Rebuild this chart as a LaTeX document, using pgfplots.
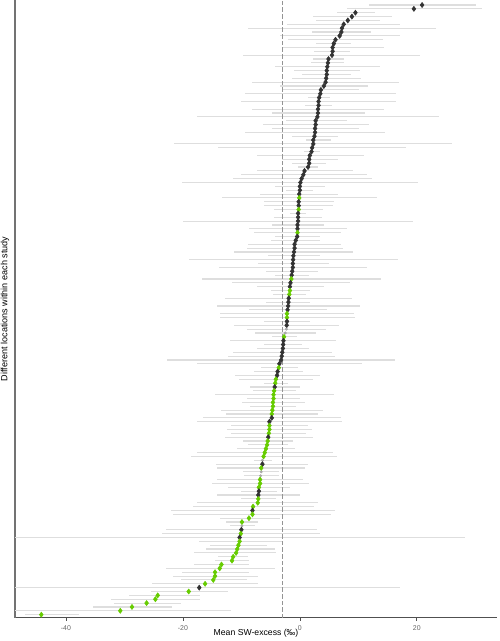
\documentclass[border=0pt]{standalone}
\usepackage{fontspec}
\setmainfont{Liberation Sans}
\usepackage{pgfplots}
\usepackage{pgfplotstable}
\pgfplotsset{compat=1.18}
\definecolor{ptblack}{HTML}{333333}
\definecolor{ptgreen}{HTML}{66CC00}
\definecolor{ptgray}{HTML}{A8A8A8}
\definecolor{errc}{HTML}{DEDEDE}
\definecolor{axc}{HTML}{505050}

\pgfplotstableread{
y x lo hi c
159 20.9 11.8 30.1 b
158 19.5 8.0 31.2 b
157 9.5 6.3 12.9 b
156 8.9 2.3 15.7 b
155 8.2 2.7 13.7 b
154 7.5 -2.2 17.1 b
153 7.2 -8.9 23.2 b
152 7.1 2.1 12.1 b
151 6.8 -3.4 17.1 b
150 6.1 -2.1 14.3 b
149 5.8 2.7 8.7 b
148 5.6 -2.8 14.4 b
147 5.6 2.5 8.5 b
146 5.5 -9.7 20.5 b
145 4.9 2.3 7.6 b
144 4.8 1.9 7.6 b
143 4.7 -4.3 13.7 b
142 4.6 -1.0 10.2 b
141 4.6 0.3 8.8 b
140 4.5 -1.4 10.5 b
139 4.4 -8.1 16.9 b
138 4.1 -3.4 11.6 b
137 3.6 -2.8 10.1 b
136 3.5 -9.3 16.5 b
135 3.3 1.4 5.2 b
134 3.2 -10.1 16.5 b
133 3.2 0.9 5.5 b
132 3.1 -8.1 14.4 b
131 3.1 -4.8 11.1 b
130 3.0 -17.6 23.8 b
129 2.7 -2.4 8.0 b
128 2.7 -6.3 11.9 b
127 2.6 -4.7 10.1 b
126 2.6 -9.3 14.5 b
125 2.5 -1.4 6.6 b
124 2.3 1.0 5.4 b
123 2.3 -21.6 26.1 b
122 2.1 -14.0 18.2 b
121 2.0 0.7 3.4 b
120 1.7 -7.4 10.9 b
119 1.6 -3.0 6.6 b
118 1.6 -1.4 4.5 b
117 1.4 -0.3 3.1 b
116 0.8 -7.4 9.1 b
115 0.6 -10.1 11.4 b
114 0.3 -11.5 12.3 b
113 0.1 -20.2 20.2 b
112 0.0 -4.2 4.3 b
111 0.0 -2.4 2.3 b
110 -0.1 -6.8 6.6 b
109 -0.1 -13.3 13.2 g
108 -0.2 -6.1 5.9 b
107 -0.2 -6.1 5.7 b
106 -0.2 -4.4 3.9 g
105 -0.3 -1.6 1.0 b
104 -0.3 -4.4 3.8 b
103 -0.3 -20.0 19.3 b
102 -0.4 -4.8 4.2 b
101 -0.4 -8.7 8.0 b
100 -0.4 -7.9 7.1 g
99 -0.45 -4.2 3.5 b
98 -0.7 -5.0 3.5 b
97 -0.9 -8.9 7.1 b
96 -0.9 -9.1 7.3 b
95 -1.0 -11.2 9.1 b
94 -1.1 -5.4 3.4 b
93 -1.15 -19.0 16.8 b
92 -1.2 -7.2 5.0 b
91 -1.2 -13.8 11.5 b
90 -1.3 -5.8 3.1 b
89 -1.4 -4.2 1.5 b
88 -1.45 -16.8 13.8 g
87 -1.6 -11.6 8.5 b
86 -1.7 -7.4 4.2 b
85 -1.7 -5.0 1.8 g
84 -1.8 -4.6 1.1 g
83 -1.9 -12.8 9.0 b
82 -1.95 -5.8 1.8 b
81 -2.0 -14.1 10.3 b
80 -2.1 -8.7 4.6 b
79 -2.2 -13.6 9.3 g
78 -2.2 -13.7 9.4 g
77 -2.2 -6.2 1.8 b
76 -2.25 -11.2 6.7 b
75 -2.3 -9.0 4.4 n
74 -2.5 -7.7 2.7 n
73 -2.7 -4.8 -0.5 g
72 -2.8 -11.9 6.2 b
71 -2.85 -6.1 0.3 b
70 -2.9 -7.4 1.5 b
69 -3.0 -11.4 5.5 b
68 -3.1 -12.3 6.0 b
67 -3.2 -22.7 16.2 b
66 -3.5 -17.6 10.6 b
65 -3.6 -6.6 -0.3 g
64 -3.8 -7.9 0.5 b
63 -3.9 -11.1 3.5 b
62 -4.1 -10.4 2.3 g
61 -4.2 -6.2 -2.1 g
60 -4.3 -8.6 0.0 b
59 -4.4 -8.0 -0.7 g
58 -4.5 -14.5 5.8 g
57 -4.5 -9.1 0.1 g
56 -4.6 -9.9 0.8 g
55 -4.6 -8.5 -0.6 g
54 -4.7 -13.5 4.0 g
53 -4.8 -12.7 3.1 g
52 -4.8 -16.5 7.0 b
51 -5.2 -17.5 7.2 b
50 -5.2 -11.7 1.4 g
49 -5.2 -12.4 2.1 g
48 -5.3 -11.8 1.0 g
47 -5.4 -12.8 2.2 b
46 -5.5 -9.7 -1.1 g
45 -5.6 -8.9 -2.1 g
44 -5.8 -10.7 -0.9 g
43 -6.0 -17.5 5.6 g
42 -6.2 -18.6 6.4 g
41 -6.4 -7.9 -4.7 n
40 -6.4 -14.4 1.4 b
39 -6.6 -14.1 0.9 g
38 -6.6 -9.7 -3.6 n
37 -6.7 -9.5 -3.6 n
36 -6.8 -14.1 0.6 g
35 -6.8 -15.0 1.5 g
34 -7.0 -12.3 -1.6 g
33 -7.0 -10.0 -3.9 b
32 -7.1 -14.1 0.1 b
31 -7.1 -10.0 -4.1 g
30 -7.2 -17.5 3.1 g
29 -8.0 -18.2 2.4 g
28 -8.1 -22.1 6.0 b
27 -8.1 -21.7 5.4 g
26 -8.7 -13.7 -3.4 g
25 -9.9 -12.6 -7.1 g
24 -9.9 -12.0 -7.7 n
23 -10.0 -22.8 3.0 b
22 -10.1 -23.5 3.4 g
21 -10.3 -60.0 28.2 b
20 -10.3 -17.2 -3.0 g
19 -10.5 -15.3 -5.7 g
18 -10.7 -16.0 -4.3 g
17 -10.9 -18.1 -4.0 g
16 -11.4 -14.0 -8.8 g
15 -11.6 -14.5 -8.7 g
14 -13.4 -18.1 -8.7 g
13 -13.7 -22.9 -4.3 g
12 -14.5 -20.2 -8.7 g
11 -14.5 -21.7 -7.2 g
10 -14.8 -20.3 -9.1 g
9 -16.2 -25.2 -7.1 g
8 -17.2 -60.0 17.1 b
7 -19.0 -25.4 -12.3 g
6 -24.3 -29.2 -17.1 g
5 -24.7 -32.3 -17.1 g
4 -26.2 -31.8 -20.4 g
3 -28.7 -35.4 -21.9 g
2 -30.7 -60.0 -11.7 g
1 -44.2 -47.0 -37.8 g
}\data

\begin{document}
\begin{tikzpicture}
\begin{axis}[
  scale only axis, width=361.5pt, height=463.3pt,
  xmin=-48.7, xmax=33.7, ymin=0.22, ymax=160.3,
  axis x line*=bottom, axis y line*=left,
  x axis line style={axc, line width=0.65pt},
  y axis line style={black!55, line width=1.1pt},
  xtick={-40,-20,0,20}, xticklabels={-40,-20,0,20},
  ytick=\empty,
  tick style={axc, line width=0.5pt}, major tick length=2.4pt, tick align=outside,
  xticklabel style={font=\fontsize{5.2}{6}\selectfont, color=black!60},
  xlabel={Mean SW-excess (‰)},
  ylabel={Different locations within each study},
  x label style={at={(axis description cs:0.5,0)}, anchor=center, yshift=-11.5pt, font=\fontsize{6.5}{7}\selectfont},
  y label style={at={(axis description cs:-0.0207,0.5)}, anchor=center, font=\fontsize{6.8}{7}\selectfont},
  clip=true,
]
\addplot[draw=none, mark=none, forget plot,
  error bars/.cd, x dir=both, x explicit, error mark=none,
  error bar style={draw=errc, line width=0.85pt}]
  table[x=x, y=y, x error plus expr=\thisrow{hi}-\thisrow{x}, x error minus expr=\thisrow{x}-\thisrow{lo}] {\data};
\addplot[draw=black!42, line width=1.1pt, dash pattern=on 3.5pt off 1.5pt, mark=none, forget plot]
  coordinates {(-3,0) (-3,161)};
\addplot[scatter, only marks, mark size=1.9pt, scatter src=explicit symbolic,
  scatter/classes={
    b={mark=diamond*, draw=ptblack, fill=ptblack},
    g={mark=diamond*, draw=ptgreen, fill=ptgreen},
    n={mark=*, mark size=0.9pt, draw=ptgray, fill=ptgray}}]
  table[x=x, y=y, meta=c] {\data};
\end{axis}
\pgfresetboundingbox
\path (-11.25pt,-17.5pt) rectangle (363.75pt,463.3pt);
\end{tikzpicture}
\end{document}
